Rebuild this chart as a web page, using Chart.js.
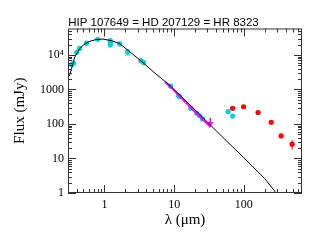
<!DOCTYPE html>
<html>
<head>
<meta charset="utf-8">
<script src="https://cdn.jsdelivr.net/npm/chart.js@4.4.1/dist/chart.umd.min.js"></script>
<style>
  body { margin: 0; background: #fff; }
  canvas { display: block; }
</style>
</head>
<body>
<canvas id="sed" width="319" height="242"></canvas>
<script>
const titleText = "HIP 107649 = HD 207129 = HR 8323";

// photosphere model
const modelWave = [0.313, 0.335, 0.345, 0.36, 0.37, 0.39, 0.435, 0.5, 0.6, 0.76, 0.95, 1.25, 1.62, 2.1, 3.3, 5, 8.9, 20, 50, 100, 200, 291];
const modelFlux = [2450, 3700, 4800, 6300, 8200, 10000, 14700, 19500, 24500, 28000, 29000, 26000, 21900, 14500, 6900, 3300, 1260, 255, 41, 10.5, 2.6, 1];

// IRS spectrum
const irsWave = [7.4, 10, 15, 20, 25, 30, 33];
const irsFlux = [1680, 930, 405, 222, 143, 100, 84];
const irsSpikeWave = [33, 33];
const irsSpikeFlux = [150, 80];

// optical / near-IR / mid-IR photometry
const photWave = [0.34, 0.36, 0.40, 0.44, 0.55, 0.80, 1.21, 1.22, 1.21, 1.65, 2.15, 3.33, 3.65, 8.9, 11.5, 12, 17.3, 21.1, 23, 25.5, 59.5, 69];
const photFlux = [5300, 5800, 12000, 15500, 22000, 28500, 26000, 23000, 19500, 21000, 12500, 6840, 6000, 1260, 660, 620, 285, 204, 175, 140, 227, 170];
const photErrLow = [0, 0, 0, 0, 0, 0, 0, 0, 0, 0, 2500, 0, 0, 0, 0, 0, 0, 0, 0, 0, 0, 0];

// far-IR / submm excess
const farWave = [69, 99, 160, 247, 343, 493];
const farFlux = [285, 316, 214, 112, 45, 26];
const farErr = [0, 0, 0, 8, 6, 8];

const xTicks = [1, 10, 100];
const yTicks = [1, 10, 100, 1000, 10000];
const yTickLabels = ["1", "10", "100", "1000", "10\u2074"];

const xMin = 0.313, xMax = 683, yMin = 1, yMax = 58600;

const cyan = "#00cfd4";
const magenta = "#ff00ff";
const red = "#ff0000";
const serif = "'Liberation Serif', 'Times New Roman', serif";

function pts(xs, ys) {
	return xs.map((x, i) => ({ x, y: ys[i] }));
}

// frame with inward ticks on all four sides
const framePlugin = {
	id: "frame",
	afterDatasetsDraw(chart) {
		const { ctx, chartArea: a, scales } = chart;
		const xs = scales.x, ys = scales.y;
		ctx.save();
		ctx.strokeStyle = "#333";
		ctx.lineWidth = 1;
		ctx.strokeRect(a.left + 0.5, a.top + 0.5, a.right - a.left - 1, a.bottom - a.top - 1);
		ctx.beginPath();
		for (let d = -1; d <= 3; d++) {
			for (let m = 1; m <= 9; m++) {
				const v = m * Math.pow(10, d);
				if (v < xMin || v > xMax) continue;
				const len = m === 1 ? 8 : 4;
				const px = Math.round(xs.getPixelForValue(v)) + 0.5;
				ctx.moveTo(px, a.bottom);
				ctx.lineTo(px, a.bottom - len);
				ctx.moveTo(px, a.top);
				ctx.lineTo(px, a.top + len);
			}
		}
		for (let d = 0; d <= 4; d++) {
			for (let m = 1; m <= 9; m++) {
				const v = m * Math.pow(10, d);
				if (v < yMin || v > yMax) continue;
				const len = m === 1 ? 8 : 4;
				const py = Math.round(ys.getPixelForValue(v)) + 0.5;
				ctx.moveTo(a.left, py);
				ctx.lineTo(a.left + len, py);
				ctx.moveTo(a.right, py);
				ctx.lineTo(a.right - len, py);
			}
		}
		ctx.stroke();
		ctx.restore();
	},
};

// vertical error bars
const errorPlugin = {
	id: "errors",
	beforeDatasetsDraw(chart) {
		const { ctx, scales } = chart;
		const xs = scales.x, ys = scales.y;
		ctx.save();
		ctx.lineWidth = 1;
		ctx.strokeStyle = red;
		farWave.forEach((w, i) => {
			if (!farErr[i]) return;
			const px = xs.getPixelForValue(w);
			ctx.beginPath();
			ctx.moveTo(px, ys.getPixelForValue(farFlux[i] + farErr[i]));
			ctx.lineTo(px, ys.getPixelForValue(farFlux[i] - farErr[i]));
			ctx.stroke();
		});
		ctx.strokeStyle = cyan;
		photWave.forEach((w, i) => {
			if (!photErrLow[i]) return;
			const px = xs.getPixelForValue(w);
			const lo = ys.getPixelForValue(photFlux[i] - photErrLow[i]);
			ctx.beginPath();
			ctx.moveTo(px, ys.getPixelForValue(photFlux[i]));
			ctx.lineTo(px, lo);
			ctx.moveTo(px - 3, lo);
			ctx.lineTo(px + 3, lo);
			ctx.stroke();
		});
		ctx.restore();
	},
};

new Chart(document.getElementById("sed"), {
	type: "scatter",
	data: {
		datasets: [
			{
				data: pts(modelWave, modelFlux),
				showLine: true,
				borderColor: "#000",
				borderWidth: 1,
				pointRadius: 0,
			},
			{
				data: pts(irsWave, irsFlux),
				showLine: true,
				borderColor: magenta,
				borderWidth: 2,
				pointRadius: 0,
			},
			{
				data: pts(irsSpikeWave, irsSpikeFlux),
				showLine: true,
				borderColor: magenta,
				borderWidth: 1.5,
				pointRadius: 0,
			},
			{
				data: [{ x: 32.5, y: 100 }],
				pointStyle: "triangle",
				rotation: 180,
				pointRadius: 4,
				backgroundColor: magenta,
				borderColor: magenta,
				borderWidth: 0,
			},
			{
				data: pts(photWave, photFlux),
				pointRadius: 2.6,
				backgroundColor: cyan,
				borderColor: cyan,
				borderWidth: 0,
			},
			{
				data: pts(farWave, farFlux),
				pointRadius: 2.6,
				backgroundColor: red,
				borderColor: red,
				borderWidth: 0,
			},
		],
	},
	options: {
		responsive: false,
		animation: false,
		devicePixelRatio: 1,
		// left padding shifts the centred title over the plot like the original
		layout: { padding: { left: 25, right: 17, top: 0, bottom: 0 } },
		plugins: {
			legend: { display: false },
			tooltip: { enabled: false },
			title: {
				display: true,
				text: titleText,
				color: "#000",
				font: { family: "'Liberation Sans', Arial, sans-serif", size: 11.5, weight: "normal", lineHeight: 1 },
				padding: { top: 17, bottom: 0 },
			},
		},
		scales: {
			x: {
				type: "logarithmic",
				min: xMin,
				max: xMax,
				grid: { display: false, drawTicks: false },
				border: { display: false },
				afterBuildTicks: (s) => { s.ticks = xTicks.map((v) => ({ value: v })); },
				afterFit: (s) => { s.height = 49; },
				ticks: {
					autoSkip: false,
					maxRotation: 0,
					padding: 5,
					color: "#000",
					font: { family: serif, size: 12 },
					callback: (v) => String(v),
				},
				title: {
					display: true,
					text: "\u03bb (\u03bcm)",
					color: "#000",
					font: { family: serif, size: 15 },
					padding: { top: 0, bottom: 13 },
				},
			},
			y: {
				type: "logarithmic",
				min: yMin,
				max: yMax,
				grid: { display: false, drawTicks: false },
				border: { display: false },
				afterBuildTicks: (s) => { s.ticks = yTicks.map((v) => ({ value: v })); },
				afterFit: (s) => { s.width = 43; },
				ticks: {
					autoSkip: false,
					padding: 4,
					color: "#000",
					font: { family: serif, size: 12 },
					callback: (v) => yTickLabels[yTicks.indexOf(v)],
				},
				title: {
					display: true,
					text: "Flux (mJy)",
					color: "#000",
					font: { family: serif, size: 15 },
					padding: { top: -14, bottom: 0 },
				},
			},
		},
	},
	plugins: [framePlugin, errorPlugin],
});
</script>
</body>
</html>
